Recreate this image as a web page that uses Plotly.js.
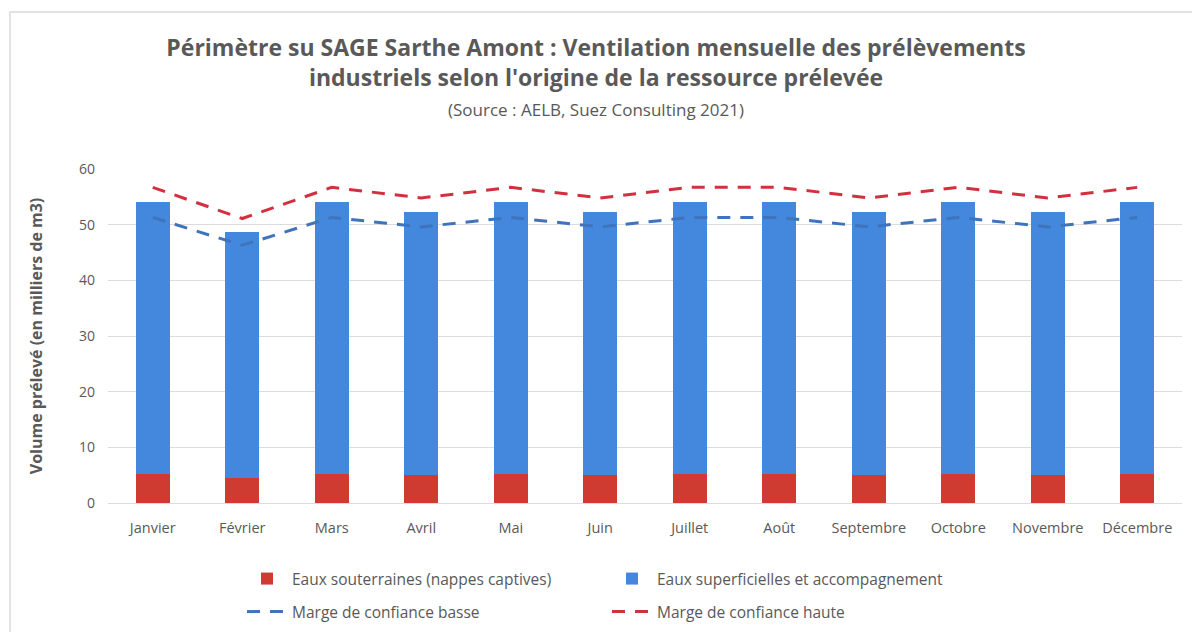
<!DOCTYPE html>
<html>
<head>
<meta charset="utf-8">
<script src="https://cdn.plot.ly/plotly-3.0.1.min.js"></script>
<style>
html,body{margin:0;padding:0;background:#fff;}
#chart{width:1192px;height:632px;}
</style>
</head>
<body>
<div id="chart"></div>
<script>
const months = ["Janvier","Février","Mars","Avril","Mai","Juin","Juillet","Août","Septembre","Octobre","Novembre","Décembre"];
const souterraines = [5.2, 4.5, 5.2, 5.0, 5.2, 5.0, 5.2, 5.2, 5.0, 5.2, 5.0, 5.2];
const superficielles = [48.8, 44.2, 48.8, 47.2, 48.8, 47.2, 48.8, 48.8, 47.2, 48.8, 47.2, 48.8];
const margeBasse = [51.3, 46.3, 51.3, 49.6, 51.3, 49.6, 51.3, 51.3, 49.6, 51.3, 49.6, 51.3];
const margeHaute = [56.7, 51.1, 56.7, 54.8, 56.7, 54.8, 56.7, 56.7, 54.8, 56.7, 54.8, 56.7];

const font = "Open Sans, Noto Sans, sans-serif";
const grey = "#595959";

const traces = [
  {type:"bar", name:"Eaux souterraines (nappes captives)", x:months, y:souterraines,
   marker:{color:"#cf3b30"}, legend:"legend"},
  {type:"bar", name:"Eaux superficielles et accompagnement", x:months, y:superficielles,
   marker:{color:"#4388dc"}, legend:"legend"},
  {type:"scatter", mode:"lines", name:"Marge de confiance basse", x:months, y:margeBasse,
   line:{color:"#3f74bd", width:3, dash:"13px,10px"}, legend:"legend2"},
  {type:"scatter", mode:"lines", name:"Marge de confiance haute", x:months, y:margeHaute,
   line:{color:"#d3303f", width:3, dash:"13px,10px"}, legend:"legend2"}
];

const legendCommon = {
  orientation:"h", xref:"container", yref:"container", xanchor:"left", yanchor:"middle",
  font:{family:font, size:15.5, color:grey}, entrywidth:310, entrywidthmode:"pixels",
  bgcolor:"rgba(0,0,0,0)", traceorder:"normal", itemwidth:40
};

// plot area in pixels: x 108..1182, y 169..503
const pl = 108, pw = 1074, pb = 503, ph = 334;

const layout = {
  width:1192, height:632,
  paper_bgcolor:"#fff", plot_bgcolor:"#fff",
  margin:{l:pl, r:1192-pl-pw, t:pb-ph, b:632-pb},
  barmode:"stack", bargap:0.62,
  title:{
    text:"<b>Périmètre su SAGE Sarthe Amont : Ventilation mensuelle des prélèvements<br>industriels selon l'origine de la ressource prélevée</b><br><span style='font-size:17px'>(Source : AELB, Suez Consulting 2021)</span>",
    x:0.5, xanchor:"center", xref:"container", y:1-56/632, yref:"container", yanchor:"top",
    font:{family:font, size:23, color:grey}
  },
  xaxis:{
    type:"category", tickfont:{family:font, size:14.5, color:grey},
    showgrid:false, zeroline:false, showline:false, ticks:"", ticklabelstandoff:14
  },
  yaxis:{
    range:[0,60], dtick:10, tickfont:{family:font, size:14, color:grey},
    gridcolor:"#dcdcdc", gridwidth:1, zeroline:true, zerolinecolor:"#dcdcdc",
    ticks:"", ticklabelstandoff:12,
    title:{text:"<b>Volume prélevé (en milliers de m3)</b>", font:{family:font, size:16, color:grey}, standoff:32}
  },
  legend: Object.assign({}, legendCommon, {x:242/1192, y:1-579/632}),
  legend2: Object.assign({}, legendCommon, {x:242/1192, y:1-612/632}),
  shapes:[
    {type:"rect", layer:"below", xref:"paper", yref:"paper",
     x0:(10-pl)/pw, x1:(1200-pl)/pw, y0:(pb-640)/ph, y1:(pb-12)/ph,
     line:{color:"#e2e2e2", width:2}, fillcolor:"rgba(0,0,0,0)"}
  ],
  showlegend:true
};

Plotly.newPlot("chart", traces, layout, {displayModeBar:false, staticPlot:true});
</script>
</body>
</html>
